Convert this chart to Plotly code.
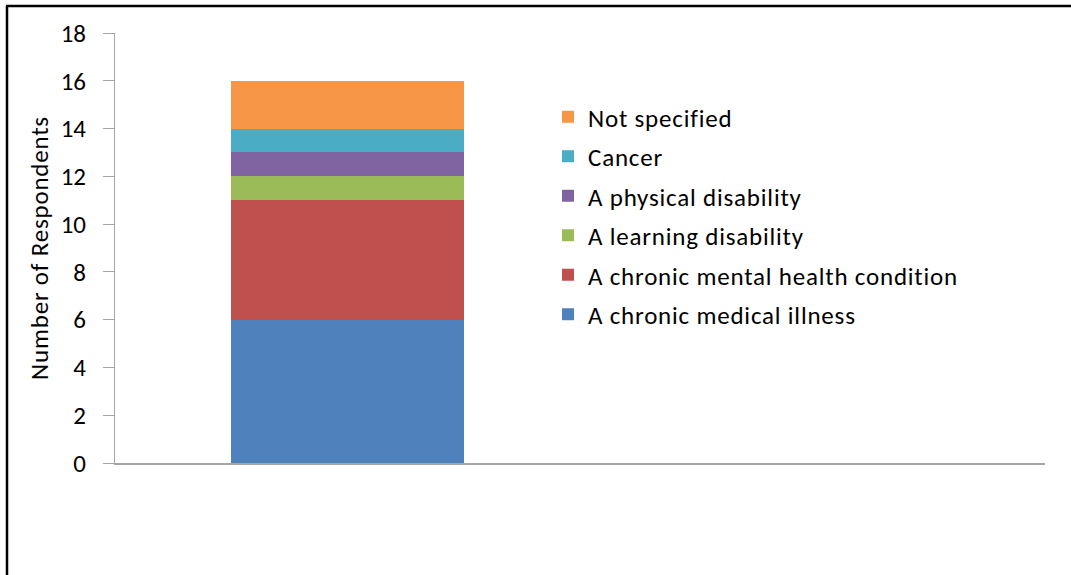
import plotly.graph_objects as go

categories = ["Respondents", " "]
series_names = [
    "A chronic medical illness",
    "A chronic mental health condition",
    "A learning disability",
    "A physical disability",
    "Cancer",
    "Not specified",
]
series_values = [
    [6, None],
    [5, None],
    [1, None],
    [1, None],
    [1, None],
    [2, None],
]
colors = ["#4F81BD", "#C0504D", "#9BBB59", "#8064A2", "#4BACC6", "#F79646"]
y_ticks = [0, 2, 4, 6, 8, 10, 12, 14, 16, 18]

FONT = "Carlito, Calibri, 'Open Sans', sans-serif"
FS = 25

fig = go.Figure()
n = len(series_names)
for i, (name, vals, col) in enumerate(zip(series_names, series_values, colors)):
    fig.add_trace(go.Bar(
        x=categories, y=vals, name=name, marker=dict(color=col, line=dict(width=0)),
        legendgroup=name, legendrank=n - i,
    ))

W, H = 1071, 575
L, R, T, B = 115, 26, 33, 112
pw, ph = W - L - R, H - T - B

def px_x(v):
    return (v - L) / pw

def px_y(v):
    return (H - B - v) / ph

fig.update_layout(
    width=W, height=H,
    margin=dict(l=L, r=R, t=T, b=B),
    barmode="stack",
    bargap=0.5,
    paper_bgcolor="white",
    plot_bgcolor="white",
    font=dict(family=FONT, size=FS, color="#000000"),
    showlegend=True,
    legend=dict(
        traceorder="grouped",
        tracegroupgap=4,
        x=px_x(548), xanchor="left",
        y=px_y(94), yanchor="top",
        font=dict(family=FONT, size=FS, color="#000000"),
        bgcolor="rgba(0,0,0,0)",
        itemclick=False,
    ),
    xaxis=dict(
        range=[-0.5, 1.5],
        showticklabels=False,
        ticks="",
        showgrid=False,
        zeroline=False,
        showline=True,
        linecolor="#A6A6A6",
        linewidth=2,
    ),
    yaxis=dict(
        range=[0, 18],
        tickvals=y_ticks,
        ticktext=[str(v) for v in y_ticks],
        ticks="outside",
        ticklen=11,
        tickwidth=1,
        tickcolor="#A6A6A6",
        ticklabelstandoff=12,
        showgrid=False,
        zeroline=False,
        showline=True,
        linecolor="#A6A6A6",
        linewidth=1,
        tickfont=dict(family=FONT, size=FS, color="#000000"),
        title=dict(text="Number of Respondents", standoff=4,
                   font=dict(family=FONT, size=FS, color="#000000")),
    ),
    shapes=[
        dict(type="line", xref="paper", yref="paper",
             x0=px_x(7), x1=px_x(7), y0=px_y(6), y1=px_y(600),
             line=dict(color="black", width=2.5)),
        dict(type="line", xref="paper", yref="paper",
             x0=px_x(6), x1=px_x(1100), y0=px_y(6), y1=px_y(6),
             line=dict(color="black", width=2.5)),
    ],
)

post = (
    "document.body.style.margin='0';"
    "document.body.style.overflow='hidden';"
    "var st=document.createElement('style');"
    "st.textContent='.legendtext, .ytitle {letter-spacing: 0.8px;} "
    ".legend .scrollbox {clip-path: none !important;}';"
    "document.head.appendChild(st);"
)

fig.write_html(
    "out.html",
    config={"displayModeBar": False},
    post_script=post,
)
